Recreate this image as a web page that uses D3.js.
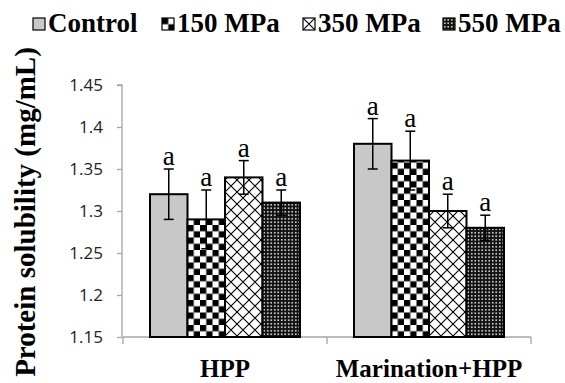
<!DOCTYPE html>
<html>
<head>
<meta charset="utf-8">
<script src="https://cdn.jsdelivr.net/npm/d3@7"></script>
<style>
  body { margin: 0; background: #fff; }
  svg { display: block; }
</style>
</head>
<body>
<div id="chart"></div>
<script>
var w = 565,
    h = 383;

var groups = ["HPP", "Marination+HPP"];
var series = ["Control", "150 MPa", "350 MPa", "550 MPa"];
var hppValues = [1.32, 1.29, 1.34, 1.31];
var hppErrors = [0.03, 0.035, 0.02, 0.015];
var marValues = [1.38, 1.36, 1.30, 1.28];
var marErrors = [0.03, 0.035, 0.02, 0.015];
var letters = [["a", "a", "a", "a"], ["a", "a", "a", "a"]];
var yTicks = [1.15, 1.2, 1.25, 1.3, 1.35, 1.4, 1.45];

var rows = [];
[hppValues, marValues].forEach(function(vals, gi) {
  var errs = gi === 0 ? hppErrors : marErrors;
  vals.forEach(function(v, si) {
    rows.push({group: groups[gi], series: series[si], si: si, value: v, err: errs[si], letter: letters[gi][si]});
  });
});

var serif = "'Liberation Serif', 'Times New Roman', serif";

var svg = d3.select("#chart")
    .append("svg")
    .attr("width", w)
    .attr("height", h);

// patterns
var defs = svg.append("defs");

var p1 = defs.append("pattern").attr("id", "pat1")
    .attr("patternUnits", "userSpaceOnUse").attr("width", 12.5).attr("height", 12.5);
p1.append("rect").attr("width", 12.5).attr("height", 12.5).attr("fill", "#fff");
p1.append("rect").attr("width", 6.25).attr("height", 6.25).attr("fill", "#000");
p1.append("rect").attr("x", 6.25).attr("y", 6.25).attr("width", 6.25).attr("height", 6.25).attr("fill", "#000");

var p2 = defs.append("pattern").attr("id", "pat2")
    .attr("patternUnits", "userSpaceOnUse").attr("width", 12).attr("height", 12);
p2.append("rect").attr("width", 12).attr("height", 12).attr("fill", "#fff");
p2.append("path").attr("d", "M0,0L12,12M12,0L0,12M-6,6L6,18M6,-6L18,6M-6,6L6,-6M6,18L18,6")
    .attr("stroke", "#000").attr("stroke-width", 1.1).attr("fill", "none");

var p3 = defs.append("pattern").attr("id", "pat3")
    .attr("patternUnits", "userSpaceOnUse").attr("width", 3.5).attr("height", 3.5);
p3.append("rect").attr("width", 3.5).attr("height", 3.5).attr("fill", "#111");
p3.append("rect").attr("x", 1).attr("y", 1).attr("width", 1.5).attr("height", 1.5).attr("fill", "#fff");

var fills = ["#c8c8c8", "url(#pat1)", "url(#pat2)", "url(#pat3)"];

var x0 = d3.scaleBand().domain(groups).range([123, 531]).paddingInner(0).paddingOuter(0);
var x1 = d3.scaleBand().domain(series).range([0, x0.bandwidth()]).paddingOuter(0.72).paddingInner(0);
var y = d3.scaleLinear().domain([1.15, 1.45]).range([337, 85]);

// y axis
var yAxis = svg.append("g")
    .attr("transform", "translate(122,0)")
    .call(d3.axisLeft(y).tickValues(yTicks).tickSize(5).tickPadding(14).tickFormat(d3.format("")));
yAxis.selectAll("path, line").attr("stroke", "#a6a6a6").attr("stroke-width", 1.3);
yAxis.select(".domain").attr("d", "M-5,85H0V337");
yAxis.selectAll("text").attr("font-family", "'Open Sans', sans-serif").attr("font-size", 17).attr("fill", "#222");

// x axis
var xAxis = svg.append("g")
    .attr("transform", "translate(0,337)");
xAxis.append("line").attr("x1", 123).attr("x2", 531).attr("stroke", "#a6a6a6").attr("stroke-width", 1.3);
xAxis.selectAll(".tk").data([123].concat(groups.map(function(g) { return x0(g) + x0.bandwidth(); })))
  .enter().append("line").attr("class", "tk")
    .attr("x1", function(d) { return d; }).attr("x2", function(d) { return d; })
    .attr("y1", 0).attr("y2", 7).attr("stroke", "#a6a6a6").attr("stroke-width", 1.3);
xAxis.selectAll("text").data(groups).enter().append("text")
    .attr("x", function(d) { return x0(d) + x0.bandwidth() / 2; })
    .attr("y", 40)
    .attr("text-anchor", "middle")
    .attr("font-family", serif)
    .attr("font-weight", "bold").attr("font-size", 25)
    .text(function(d) { return d; });

// bars
var bars = svg.append("g").selectAll("g").data(rows).enter().append("g")
    .attr("transform", function(d) { return "translate(" + (x0(d.group) + x1(d.series)) + ",0)"; });

bars.append("rect")
    .attr("x", 0)
    .attr("y", function(d) { return y(d.value); })
    .attr("width", x1.bandwidth())
    .attr("height", function(d) { return y(1.15) - y(d.value); })
    .attr("fill", function(d) { return fills[d.si]; })
    .attr("stroke", "#000").attr("stroke-width", 2);

var bw = x1.bandwidth();
bars.append("line")
    .attr("x1", bw / 2).attr("x2", bw / 2)
    .attr("y1", function(d) { return y(d.value + d.err); })
    .attr("y2", function(d) { return y(d.value - d.err); })
    .attr("stroke", "#000").attr("stroke-width", 1.5);
bars.selectAll(".cap").data(function(d) { return [d.value + d.err, d.value - d.err]; })
  .enter().append("line").attr("class", "cap")
    .attr("x1", bw / 2 - 5).attr("x2", bw / 2 + 5)
    .attr("y1", function(v) { return y(v); }).attr("y2", function(v) { return y(v); })
    .attr("stroke", "#000").attr("stroke-width", 1.5);

bars.append("text")
    .attr("x", bw / 2)
    .attr("y", function(d) { return y(d.value + d.err) - 4; })
    .attr("text-anchor", "middle")
    .attr("font-family", serif)
    .attr("font-size", 27)
    .text(function(d) { return d.letter; });

// y title
svg.append("text")
    .attr("transform", "translate(35,212) rotate(-90)")
    .attr("text-anchor", "middle")
    .attr("font-family", serif)
    .attr("font-weight", "bold").attr("font-size", 29)
    .text("Protein solubility (mg/mL)");

// legend
var legX = [33, 162, 303, 443];
var leg = svg.append("g").selectAll("g").data(series).enter().append("g")
    .attr("transform", function(d, i) { return "translate(" + legX[i] + ",18)"; });
leg.append("rect")
    .attr("width", 12).attr("height", 12)
    .attr("fill", function(d, i) { return fills[i]; })
    .attr("stroke", "#000").attr("stroke-width", 1.2);
leg.append("text")
    .attr("x", 15).attr("y", 14)
    .attr("font-family", serif)
    .attr("font-weight", "bold").attr("font-size", 27)
    .text(function(d) { return d; });
</script>
</body>
</html>
